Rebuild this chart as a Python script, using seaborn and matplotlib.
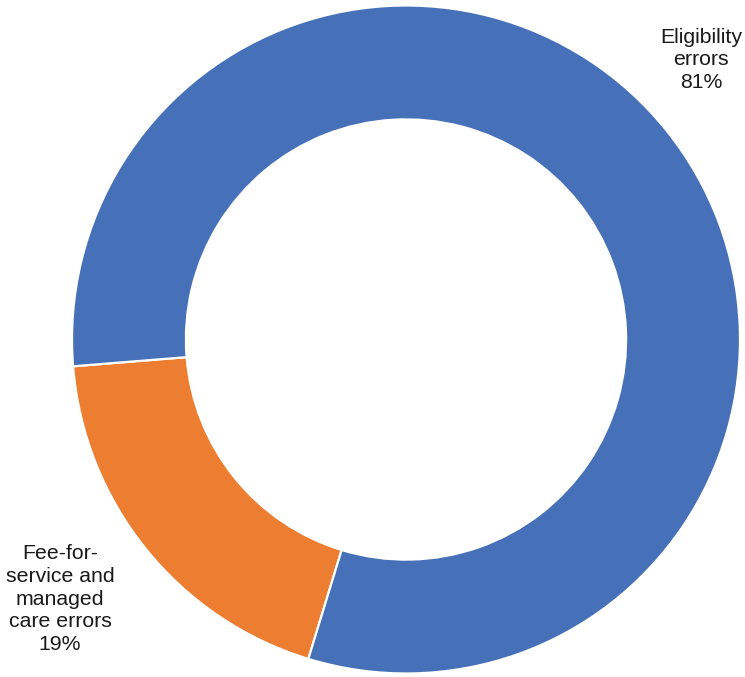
import matplotlib
matplotlib.use("Agg")
import matplotlib.pyplot as plt
import seaborn as sns

sns.set_theme(style="white")
plt.rcParams['font.family'] = ['Liberation Sans', 'DejaVu Sans']

categories = ["Fee-for-\nservice and\nmanaged\ncare errors", "Eligibility\nerrors"]
values = [19, 81]
colors = ["#ED7D31", "#4671B8"]

W, H = 745, 677
fig = plt.figure(figsize=(W / 100, H / 100), dpi=100)
cx, cy, r = 406, 339.5, 334
ax = fig.add_axes([(cx - r) / W, (H - cy - r) / H, 2 * r / W, 2 * r / H])

ax.pie(values, colors=colors, startangle=184.6, counterclock=True,
       radius=1, wedgeprops=dict(width=0.341, edgecolor="white", linewidth=1.6))
ax.set_xlim(-1, 1)
ax.set_ylim(-1, 1)
ax.set_aspect("equal")
ax.axis("off")

label_pos = [(-1.036, -0.777), (0.883, 0.837)]
for cat, val, (x, y) in zip(categories, values, label_pos):
    ax.text(x, y, f"{cat}\n{val}%", ha="center", va="center", fontsize=15.3,
            color="#1a1a1a", linespacing=1.24, clip_on=False)

fig.savefig("out.png", dpi=100)
